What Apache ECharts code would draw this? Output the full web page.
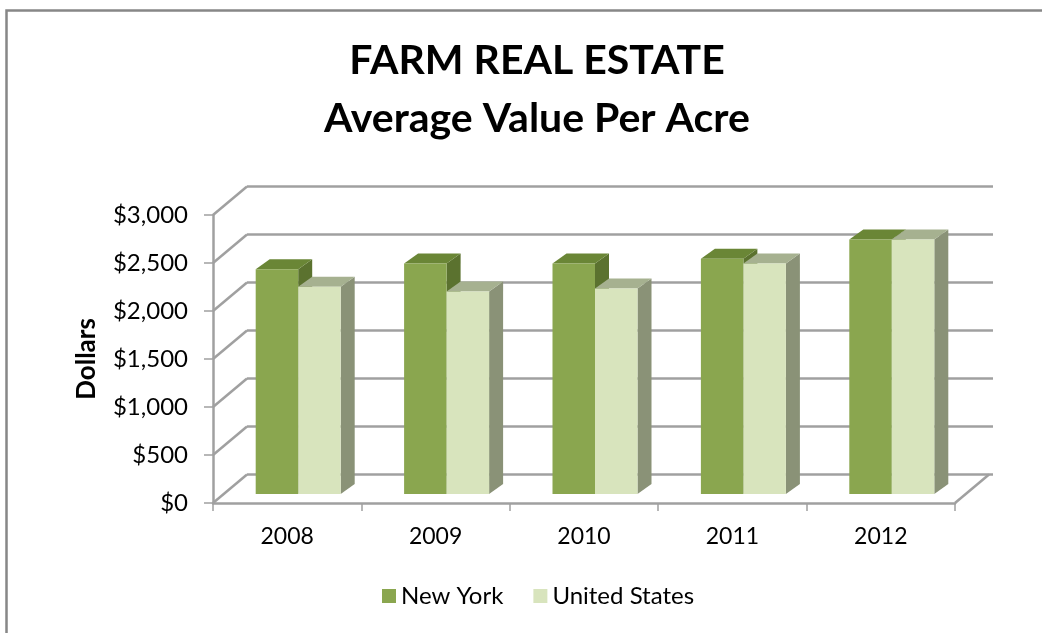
<!DOCTYPE html>
<html>
<head>
<meta charset="utf-8">
<script src="https://cdn.jsdelivr.net/npm/echarts@6/dist/echarts.min.js"></script>
<style>
  html, body { margin: 0; padding: 0; background: #fff; }
  #chart { width: 1042px; height: 633px; }
</style>
</head>
<body>
<div id="chart"></div>
<script>
// ---- data ----
const categories = ['2008', '2009', '2010', '2011', '2012'];
const newYork = [2340, 2400, 2400, 2450, 2650];
const unitedStates = [2160, 2110, 2140, 2400, 2650];
const yTickValues = [0, 500, 1000, 1500, 2000, 2500, 3000];
const seriesNames = ['New York', 'United States'];
const titleText = 'FARM REAL ESTATE\nAverage Value Per Acre';
const yAxisTitle = 'Dollars';

// ---- styling / geometry ----
const FONT = 'Lato, "Open Sans", sans-serif';
const GRID_COLOR = '#a0a0a0';
const WALL_DX = 34, WALL_DY = -28.5;     // depth of the 3D box
const BAR_SHIFT_X = 11, BAR_SHIFT_Y = -9; // bars sit a bit inside the box
const BAR_DX = 14, BAR_DY = -10;         // depth of each bar
const BAR_W = 0.2864;                    // fraction of category band
const colors = {
  ny: { front: '#8aa64f', top: '#6a8636', side: '#5b722f' },
  us: { front: '#d8e4bd', top: '#a6b190', side: '#8a9277' }
};

function barRenderer(which) {
  const c = colors[which];
  return function (params, api) {
    const i = api.value(0), v = api.value(1);
    const base = api.coord([i, 0]);
    const top = api.coord([i, v]);
    const band = api.size([1, 0])[0];
    const w = band * BAR_W;
    const left = (which === 'ny' ? base[0] - w : base[0]) + BAR_SHIFT_X;
    const yb = base[1] + BAR_SHIFT_Y;
    const yt = top[1] + BAR_SHIFT_Y;
    const r = left + w;
    return {
      type: 'group',
      children: [
        { type: 'polygon', shape: { points: [[r, yt], [r + BAR_DX, yt + BAR_DY], [r + BAR_DX, yb + BAR_DY], [r, yb]] },
          style: { fill: c.side } },
        { type: 'polygon', shape: { points: [[left, yt], [r, yt], [r + BAR_DX, yt + BAR_DY], [left + BAR_DX, yt + BAR_DY]] },
          style: { fill: c.top } },
        { type: 'rect', shape: { x: left, y: yt, width: w, height: yb - yt },
          style: { fill: c.front } }
      ]
    };
  };
}

function wallRenderer(params, api) {
  const cs = params.coordSys;
  const v = api.value(0);
  const p = api.coord([0, v]);
  const x0 = cs.x, y0 = p[1];
  const children = [
    { type: 'line', shape: { x1: x0, y1: y0, x2: x0 + WALL_DX, y2: y0 + WALL_DY },
      style: { stroke: GRID_COLOR, lineWidth: 2.5 } }
  ];
  if (v === 0) {
    const x1 = cs.x + cs.width;
    children.push({ type: 'line', shape: { x1: x1, y1: y0, x2: x1 + WALL_DX, y2: y0 + WALL_DY },
      style: { stroke: GRID_COLOR, lineWidth: 2.5 } });
  }
  return { type: 'group', children: children };
}

const chart = echarts.init(document.getElementById('chart'), null, { renderer: 'canvas' });
chart.setOption({
  animation: false,
  backgroundColor: '#fff',
  textStyle: { fontFamily: FONT },
  graphic: [{
    type: 'rect', z: -10,
    shape: { x: 6.5, y: 10.5, width: 1100, height: 700 },
    style: { fill: 'none', stroke: '#878787', lineWidth: 2.5 }
  }],
  title: {
    text: titleText,
    left: 532,
    textAlign: 'center',
    top: 27,
    textStyle: { fontFamily: FONT, fontWeight: 'bold', fontSize: 41, lineHeight: 58, color: '#000' }
  },
  legend: {
    bottom: 20,
    left: 377,
    data: seriesNames,
    icon: 'rect',
    itemWidth: 14,
    itemHeight: 14,
    itemGap: 30,
    textStyle: { fontFamily: FONT, fontSize: 24, color: '#000' }
  },
  grid: [
    { left: 213, top: 215, right: 87, bottom: 130 },
    { left: 247, top: 186.5, right: 49, bottom: 158.5 }
  ],
  xAxis: [
    {
      type: 'category', gridIndex: 0, data: categories,
      axisLine: { lineStyle: { color: GRID_COLOR, width: 2.5 } },
      axisTick: { show: true, length: 8, lineStyle: { color: GRID_COLOR, width: 1.5 } },
      axisLabel: { color: '#000', fontSize: 23, margin: 22, fontFamily: FONT }
    },
    {
      type: 'category', gridIndex: 1, data: categories, show: false
    }
  ],
  yAxis: [
    {
      type: 'value', gridIndex: 0, min: 0, max: 3000, interval: 500,
      name: yAxisTitle, nameLocation: 'middle', nameRotate: 90, nameGap: 113,
      nameTextStyle: { fontFamily: FONT, fontWeight: 'bold', fontSize: 26, color: '#000' },
      axisLine: { show: true, lineStyle: { color: GRID_COLOR, width: 2.5 } },
      axisTick: { show: true, length: 9, lineStyle: { color: GRID_COLOR, width: 1.5 } },
      splitLine: { show: false },
      axisLabel: { color: '#000', fontSize: 24, margin: 25, fontFamily: FONT,
        formatter: function (v) { return '$' + v.toLocaleString('en-US'); } }
    },
    {
      type: 'value', gridIndex: 1, min: 0, max: 3000, interval: 500,
      axisLine: { show: false }, axisTick: { show: false }, axisLabel: { show: false },
      splitLine: { show: true, lineStyle: { color: GRID_COLOR, width: 2.5 } }
    }
  ],
  series: [
    {
      type: 'custom', name: 'walls', xAxisIndex: 0, yAxisIndex: 0, z: 1,
      renderItem: wallRenderer,
      data: yTickValues.map(v => [v]),
      encode: { y: 0 },
      silent: true
    },
    {
      type: 'custom', name: seriesNames[0], xAxisIndex: 0, yAxisIndex: 0, z: 3,
      itemStyle: { color: colors.ny.front },
      renderItem: barRenderer('ny'),
      data: categories.map((c, i) => [i, newYork[i]]),
      encode: { x: 0, y: 1 }
    },
    {
      type: 'custom', name: seriesNames[1], xAxisIndex: 0, yAxisIndex: 0, z: 4,
      itemStyle: { color: colors.us.front },
      renderItem: barRenderer('us'),
      data: categories.map((c, i) => [i, unitedStates[i]]),
      encode: { x: 0, y: 1 }
    }
  ]
});
</script>
</body>
</html>
